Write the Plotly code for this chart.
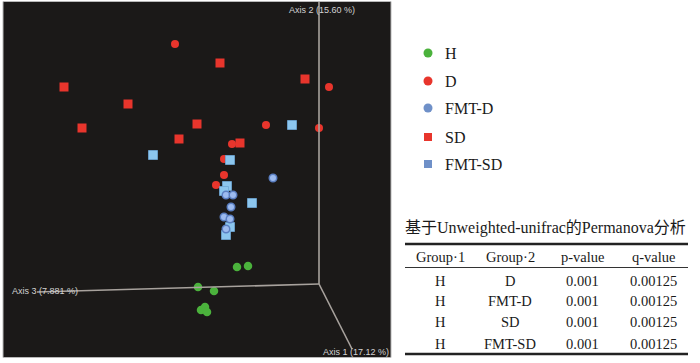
import plotly.graph_objects as go

# ---- data (projected PCoA coordinates) ----
H_x = [237, 248, 198, 214, 205, 201, 207]
H_y = [267, 266, 287, 291, 307, 310, 312]
D_x = [175, 329, 266, 319, 232, 224, 224, 216]
D_y = [44, 87, 125, 128, 144, 159, 175, 185]
FMTD_x = [273, 226, 233, 231, 224, 230, 226]
FMTD_y = [178, 195, 195, 207, 217, 219, 229]
SD_x = [220, 305, 64, 128, 82, 197, 179, 240]
SD_y = [63, 79, 87, 104, 128, 124, 139, 143]
FMTSD_x = [292, 153, 230, 227, 224, 252, 230, 226]
FMTSD_y = [125, 155, 160, 186, 191, 203, 227, 235]

axis_labels = ["Axis 2 (15.60 %)", "Axis 3 (7.881 %)", "Axis 1 (17.12 %)"]

legend_names = ["H", "D", "FMT-D", "SD", "FMT-SD"]
legend_symbols = ["circle", "circle", "circle", "square", "square"]
legend_colors = ["#4bb23c", "#e8352c", "#6f90c8", "#e8352c", "#6f90c8"]

table_title = "基于Unweighted-unifrac的Permanova分析"
table_header = ["Group·1", "Group·2", "p-value", "q-value"]
group1 = ["H", "H", "H", "H"]
group2 = ["D", "FMT-D", "SD", "FMT-SD"]
p_values = ["0.001", "0.001", "0.001", "0.001"]
q_values = ["0.00125", "0.00125", "0.00125", "0.00125"]

RED = "#e8352c"
GREEN = "#4bb23c"
LBLUE = "#8cc6ee"
SERIF = "Liberation Serif, Times New Roman, Noto Sans CJK SC, serif"

fig = go.Figure()

# dark 3D panel
fig.add_shape(type="rect", x0=3, y0=1.5, x1=391, y1=357.5,
              fillcolor="#1b1918", line=dict(color="#b8b8b8", width=1), layer="below")

# axis lines
AXC = "#a8a29d"
fig.add_shape(type="line", x0=319, y0=2, x1=319, y1=284, line=dict(color=AXC, width=1.6))
fig.add_shape(type="line", x0=37, y0=292, x1=319, y1=284, line=dict(color=AXC, width=1.6))
fig.add_shape(type="line", x0=319, y0=284, x1=352, y1=349, line=dict(color=AXC, width=1.6))

fig.add_annotation(x=287, y=10, text=axis_labels[0], xanchor="left", yanchor="middle",
                   showarrow=False, font=dict(family="Liberation Sans", size=9, color="#d2d2d2"))
fig.add_annotation(x=10, y=291, text=axis_labels[1], xanchor="left", yanchor="middle",
                   showarrow=False, font=dict(family="Liberation Sans", size=9, color="#d2d2d2"))
fig.add_annotation(x=321, y=352, text=axis_labels[2], xanchor="left", yanchor="middle",
                   showarrow=False, font=dict(family="Liberation Sans", size=9, color="#d2d2d2"))

# points
fig.add_trace(go.Scatter(x=SD_x, y=SD_y, mode="markers", name="SD",
                         marker=dict(symbol="square", size=9, color=RED, opacity=1, line=dict(width=0))))
fig.add_trace(go.Scatter(x=D_x, y=D_y, mode="markers", name="D",
                         marker=dict(symbol="circle", size=8, color=RED, opacity=1, line=dict(width=0))))
fig.add_trace(go.Scatter(x=FMTSD_x, y=FMTSD_y, mode="markers", name="FMT-SD",
                         marker=dict(symbol="square", size=9, color=LBLUE, opacity=1,
                                     line=dict(color="#6fa8d6", width=0.8))))
fig.add_trace(go.Scatter(x=FMTD_x, y=FMTD_y, mode="markers", name="FMT-D",
                         marker=dict(symbol="circle", size=7.5, color="#9dbbef", opacity=1,
                                     line=dict(color="#5b7fc2", width=1.5))))
fig.add_trace(go.Scatter(x=H_x, y=H_y, mode="markers", name="H",
                         marker=dict(symbol="circle", size=8.5, color=GREEN, opacity=1, line=dict(width=0))))

# legend (manual)
leg_y = [53, 81, 108, 137, 164]
fig.add_trace(go.Scatter(
    x=[428] * len(legend_names), y=leg_y, mode="markers",
    marker=dict(symbol=legend_symbols, size=[9, 9, 9, 8, 8], color=legend_colors, opacity=1,
                line=dict(width=0)),
))
for name, yy in zip(legend_names, leg_y):
    fig.add_annotation(x=443, y=yy, text=name, xanchor="left", yanchor="middle", showarrow=False,
                       font=dict(family=SERIF, size=16, color="#1a1a1a"))

# table
fig.add_annotation(x=545, y=228, text=table_title, xanchor="center", yanchor="middle", showarrow=False,
                   font=dict(family=SERIF, size=16, color="#1a1a1a"))
fig.add_shape(type="line", x0=405, y0=244, x1=688, y1=244, line=dict(color="#222", width=2.4))
fig.add_shape(type="line", x0=405, y0=267.5, x1=688, y1=267.5, line=dict(color="#333", width=1))
fig.add_shape(type="line", x0=405, y0=354, x1=688, y1=354, line=dict(color="#222", width=2.4))

col_x = [440, 510, 582, 653]
row_y = [281, 301, 322, 344]
for cx, h in zip(col_x, table_header):
    fig.add_annotation(x=cx, y=257, text=h, xanchor="center", yanchor="middle", showarrow=False,
                       font=dict(family=SERIF, size=14.5, color="#1a1a1a"))
for col, vals in zip(col_x, [group1, group2, p_values, q_values]):
    for ry, v in zip(row_y, vals):
        fig.add_annotation(x=col, y=ry, text=v, xanchor="center", yanchor="middle", showarrow=False,
                           font=dict(family=SERIF, size=14.5, color="#1a1a1a"))

fig.update_layout(
    width=700, height=363, margin=dict(l=0, r=0, t=0, b=0),
    paper_bgcolor="white", plot_bgcolor="white", showlegend=False,
    xaxis=dict(range=[0, 700], visible=False, fixedrange=True),
    yaxis=dict(range=[363, 0], visible=False, fixedrange=True),
)

fig.write_html("out.html", config={"displayModeBar": False},
               post_script="document.body.style.margin='0';document.body.style.overflow='hidden';")
